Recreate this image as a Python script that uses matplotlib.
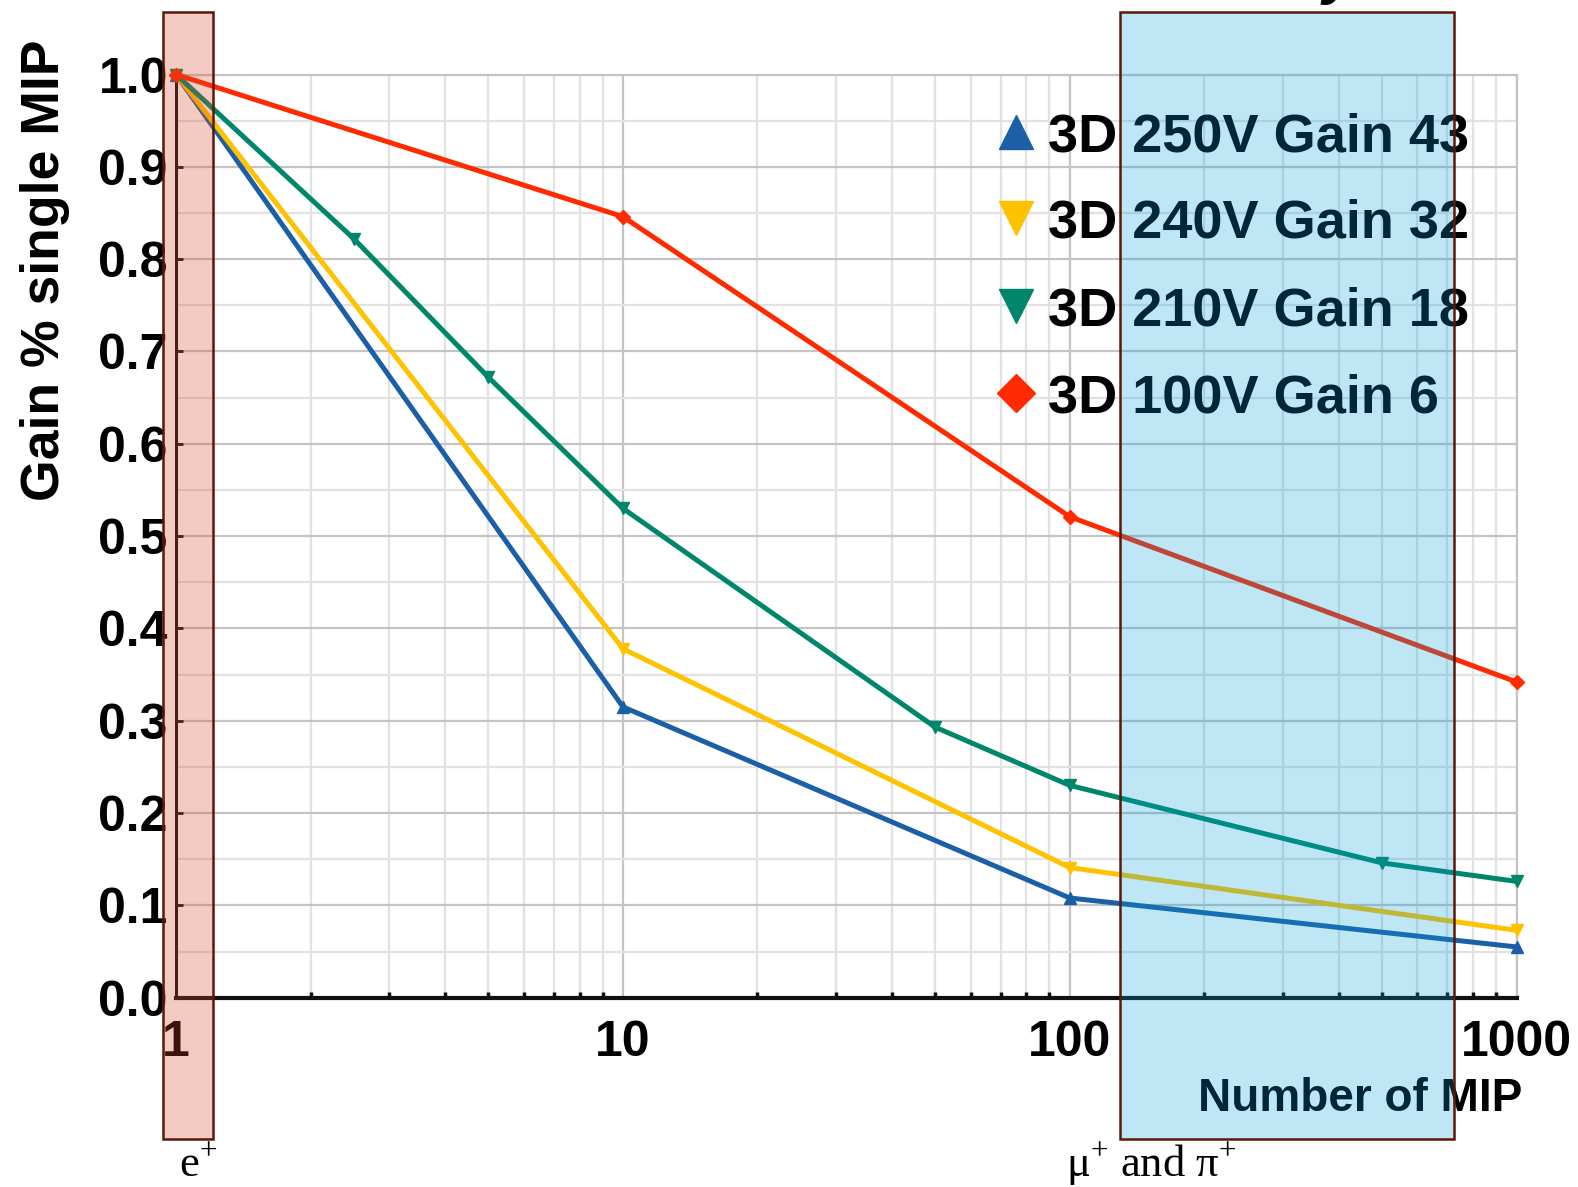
import matplotlib
matplotlib.use("Agg")
import matplotlib.pyplot as plt
from matplotlib.patches import Rectangle
from matplotlib.lines import Line2D
from matplotlib.ticker import LogLocator, FixedLocator, NullFormatter, FixedFormatter

plt.rcParams['font.family'] = ['Liberation Sans', 'DejaVu Sans']
plt.rcParams['mathtext.fontset'] = 'custom'
plt.rcParams['mathtext.rm'] = 'Liberation Serif'

# ---------------- data ----------------
x_250 = [1, 10, 100, 1000]
y_250 = [1.0, 0.315, 0.108, 0.055]

x_240 = [1, 10, 100, 1000]
y_240 = [1.0, 0.378, 0.141, 0.073]

x_210 = [1, 2.5, 5, 10, 50, 100, 500, 1000]
y_210 = [1.0, 0.822, 0.672, 0.530, 0.293, 0.230, 0.146, 0.126]

x_100 = [1, 10, 100, 1000]
y_100 = [1.0, 0.846, 0.521, 0.342]

labels = ["3D 250V Gain 43", "3D 240V Gain 32", "3D 210V Gain 18", "3D 100V Gain 6"]
colors = ["#1b5fa6", "#ffc200", "#00876b", "#ff2a00"]
markers = ["^", "v", "v", "D"]

yticks = [0.0, 0.1, 0.2, 0.3, 0.4, 0.5, 0.6, 0.7, 0.8, 0.9, 1.0]
ytick_labels = ["0.0", "0.1", "0.2", "0.3", "0.4", "0.5", "0.6", "0.7", "0.8", "0.9", "1.0"]
xticks = [1, 10, 100, 1000]
xtick_labels = ["1", "10", "100", "1000"]

W, H = 1578, 1187
fig = plt.figure(figsize=(W / 100, H / 100), dpi=100)
fig.patch.set_facecolor("white")

# layout helpers (positions measured on a 1568x1179 view)
def fx(px):
    return px / 1568

def fy(py):
    return 1 - py / 1179

ax = fig.add_axes([fx(175), fy(991), fx(1507) - fx(175), fy(74) - fy(991)])
ax.set_xscale("log")
ax.set_xlim(1, 1000)
ax.set_ylim(0, 1.0)
ax.set_axisbelow(True)

ax.xaxis.set_major_locator(FixedLocator(xticks))
ax.xaxis.set_major_formatter(FixedFormatter(xtick_labels))
ax.xaxis.set_minor_locator(LogLocator(base=10, subs=range(2, 10)))
ax.xaxis.set_minor_formatter(NullFormatter())
ax.yaxis.set_major_locator(FixedLocator(yticks))
ax.yaxis.set_major_formatter(FixedFormatter(ytick_labels))
ax.yaxis.set_minor_locator(FixedLocator([v + 0.05 for v in yticks[:-1]]))

ax.grid(True, which="major", color="#c4c4c4", linewidth=1.6)
ax.grid(True, which="minor", color="#e2e2e2", linewidth=1.6)

for s in ["top", "right"]:
    ax.spines[s].set_color("#c4c4c4")
    ax.spines[s].set_linewidth(1.6)
ax.spines["bottom"].set_color("#111111")
ax.spines["bottom"].set_linewidth(3)
ax.spines["left"].set_color("#111111")
ax.spines["left"].set_linewidth(2.2)

ax.tick_params(axis="both", which="both", direction="in", color="#111111")
ax.tick_params(axis="y", which="major", length=5, width=2, pad=6, labelsize=36)
ax.tick_params(axis="y", which="minor", length=0)
ax.tick_params(axis="x", which="major", length=0, pad=16, labelsize=36)
ax.tick_params(axis="x", which="minor", length=4, width=2.5)
for lab in ax.get_xticklabels() + ax.get_yticklabels():
    lab.set_fontweight("bold")

series = [(x_250, y_250), (x_240, y_240), (x_210, y_210), (x_100, y_100)]
for (xs, ys), c, m in zip(series, colors, markers):
    ax.plot(xs, ys, color=c, linewidth=3.6, marker=m,
            markersize=8 if m != "D" else 7, zorder=3, clip_on=False)

# Manual legend
row_y = [131, 217, 304, 390]
for ry, lab, c, m in zip(row_y, labels, colors, markers):
    fig.add_artist(Line2D([fx(1010)], [fy(ry)], marker=m, color=c,
                          markersize=24 if m != "D" else 19, linestyle="none"))
    fig.text(fx(1041), fy(ry), lab, fontsize=39, fontweight="bold",
             ha="left", va="center_baseline", color="black")

# Axis labels
fig.text(fx(45), fy(268), "Gain % single MIP", rotation=90, fontsize=38.5,
         fontweight="bold", ha="center", va="center")
fig.text(fx(1513), fy(1104), "Number of MIP", fontsize=33, fontweight="bold",
         ha="right", va="baseline")

# Title fragment cut by the top edge
fig.text(fx(1314), fy(-8), "y", fontsize=44, fontweight="bold", style="italic",
         ha="left", va="baseline")

# Overlay highlight boxes
pink_face = (214 / 255, 71 / 255, 36 / 255, 0.28)
blue_face = (0.0, 157 / 255, 216 / 255, 0.255)
edge = "#5a1808"
fig.add_artist(Rectangle((fx(162), fy(1131)), fx(212) - fx(162), fy(12) - fy(1131),
                         transform=fig.transFigure, facecolor=pink_face,
                         edgecolor=edge, linewidth=1.8, zorder=10))
fig.add_artist(Rectangle((fx(1113), fy(1131)), fx(1445) - fx(1113), fy(12) - fy(1131),
                         transform=fig.transFigure, facecolor=blue_face,
                         edgecolor=edge, linewidth=1.8, zorder=10))

fig.text(fx(178), fy(1168), r"e$^{+}$", fontsize=32, family="Liberation Serif",
         ha="left", va="baseline")
fig.text(fx(1059), fy(1168), r"μ$^{+}$ and π$^{+}$", fontsize=32,
         family="Liberation Serif", ha="left", va="baseline")

fig.savefig("out.png", dpi=100)
